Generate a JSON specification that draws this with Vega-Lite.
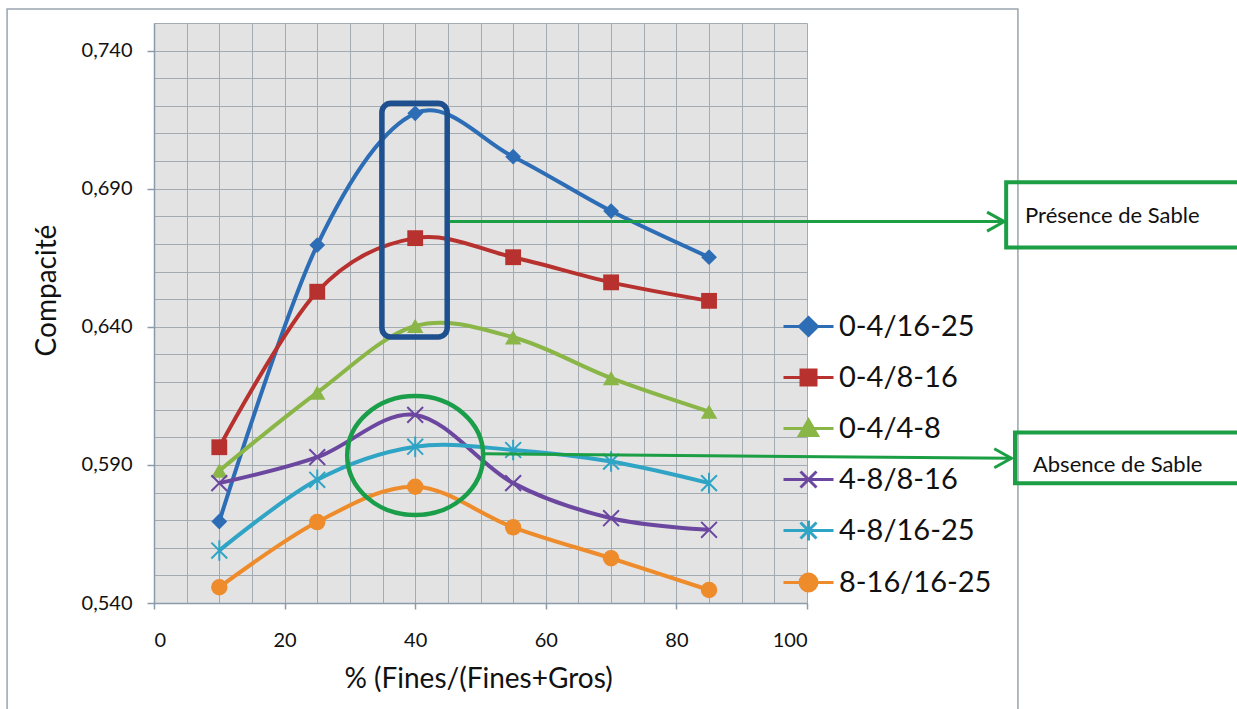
{
  "$schema": "https://vega.github.io/schema/vega-lite/v6.json",
  "width": 653,
  "height": 580,
  "autosize": {"type": "none"},
  "padding": {"left": 154, "top": 23, "right": 430, "bottom": 106},
  "background": "white",
  "config": {
    "view": {"fill": "#e3e3e3", "stroke": null},
    "font": "Lato"
  },
  "datasets": {
    "curves": [
      {"series": "0-4/16-25", "x": 10, "y": 0.5695},
      {"series": "0-4/16-25", "x": 25, "y": 0.6696},
      {"series": "0-4/16-25", "x": 40, "y": 0.7173},
      {"series": "0-4/16-25", "x": 55, "y": 0.7016},
      {"series": "0-4/16-25", "x": 70, "y": 0.6819},
      {"series": "0-4/16-25", "x": 85, "y": 0.6652},
      {"series": "0-4/8-16", "x": 10, "y": 0.5964},
      {"series": "0-4/8-16", "x": 25, "y": 0.6527},
      {"series": "0-4/8-16", "x": 40, "y": 0.6721},
      {"series": "0-4/8-16", "x": 55, "y": 0.6652},
      {"series": "0-4/8-16", "x": 70, "y": 0.6561},
      {"series": "0-4/8-16", "x": 85, "y": 0.6494},
      {"series": "0-4/4-8", "x": 10, "y": 0.5879},
      {"series": "0-4/4-8", "x": 25, "y": 0.6162},
      {"series": "0-4/4-8", "x": 40, "y": 0.6403},
      {"series": "0-4/4-8", "x": 55, "y": 0.6362},
      {"series": "0-4/4-8", "x": 70, "y": 0.6214},
      {"series": "0-4/4-8", "x": 85, "y": 0.6093},
      {"series": "4-8/8-16", "x": 10, "y": 0.5834},
      {"series": "4-8/8-16", "x": 25, "y": 0.5928},
      {"series": "4-8/8-16", "x": 40, "y": 0.6081},
      {"series": "4-8/8-16", "x": 55, "y": 0.5834},
      {"series": "4-8/8-16", "x": 70, "y": 0.5707},
      {"series": "4-8/8-16", "x": 85, "y": 0.5665},
      {"series": "4-8/16-25", "x": 10, "y": 0.559},
      {"series": "4-8/16-25", "x": 25, "y": 0.5846},
      {"series": "4-8/16-25", "x": 40, "y": 0.5966},
      {"series": "4-8/16-25", "x": 55, "y": 0.5954},
      {"series": "4-8/16-25", "x": 70, "y": 0.5912},
      {"series": "4-8/16-25", "x": 85, "y": 0.5834},
      {"series": "8-16/16-25", "x": 10, "y": 0.5457},
      {"series": "8-16/16-25", "x": 25, "y": 0.5693},
      {"series": "8-16/16-25", "x": 40, "y": 0.5821},
      {"series": "8-16/16-25", "x": 55, "y": 0.5674},
      {"series": "8-16/16-25", "x": 70, "y": 0.5562},
      {"series": "8-16/16-25", "x": 85, "y": 0.5447}
    ],
    "frame": [{"x": -22.5, "x2": 132.3, "y": 0.7551, "y2": 0.4995}],
    "bluebox": [{"x": 34.9, "x2": 44.9, "y": 0.7209, "y2": 0.6363}],
    "ellipse": [{"x": 40.0, "y": 0.5934}],
    "arrows": [
      {"x": 45.3, "x2": 130.2, "y": 0.6781, "y2": 0.6781},
      {"x": 50.7, "x2": 131.3, "y": 0.594, "y2": 0.5924}
    ],
    "greenboxes": [
      {"x": 130.5, "x2": 175, "y": 0.6923, "y2": 0.6687},
      {"x": 131.85, "x2": 175, "y": 0.6017, "y2": 0.5834}
    ],
    "notes": [
      {"x": 133.4, "y": 0.6777, "label": "Présence de Sable"},
      {"x": 134.6, "y": 0.5876, "label": "Absence de Sable"}
    ]
  },
  "resolve": {"axis": {"x": "independent", "y": "independent"}},
  "layer": [
    {
      "data": {"name": "curves"},
      "transform": [{"filter": "datum.x > 1000"}],
      "mark": {"type": "point", "filled": true, "size": 2500, "opacity": 1, "strokeWidth": 3},
      "encoding": {
        "x": {"field": "x", "type": "quantitative", "axis": null,
          "scale": {"domain": [0, 100], "nice": false, "zero": false}},
        "y": {"field": "y", "type": "quantitative", "axis": null,
          "scale": {"domain": [0.54, 0.75], "nice": false, "zero": false}},
        "color": {"field": "series", "type": "nominal",
          "scale": {"domain": ["0-4/16-25","0-4/8-16","0-4/4-8","4-8/8-16","4-8/16-25","8-16/16-25"],
            "range": ["#2d6db5","#b7322f","#8ab547","#6b479f","#2fa4c5","#ee8b2b"]},
          "legend": {"orient": "none", "legendX": 628, "legendY": 277, "title": null, "padding": 0,
            "symbolSize": 2500, "rowPadding": 9, "labelOffset": 4, "labelFont": "Lato", "labelFontSize": 29,
            "labelColor": "#111", "labelLimit": 0, "symbolStrokeWidth": 3, "symbolOpacity": 1}},
        "stroke": {"field": "series", "type": "nominal",
          "scale": {"domain": ["0-4/16-25","0-4/8-16","0-4/4-8","4-8/8-16","4-8/16-25","8-16/16-25"],
            "range": ["#2d6db5","#b7322f","#8ab547","#6b479f","#2fa4c5","#ee8b2b"]},
          "legend": {"orient": "none", "legendX": 628, "legendY": 277, "title": null, "padding": 0,
            "symbolSize": 2500, "rowPadding": 9, "labelOffset": 4, "labelFont": "Lato", "labelFontSize": 29,
            "labelColor": "#111", "labelLimit": 0, "symbolStrokeWidth": 3, "symbolOpacity": 1}},
        "shape": {"field": "series", "type": "nominal",
          "scale": {"domain": ["0-4/16-25","0-4/8-16","0-4/4-8","4-8/8-16","4-8/16-25","8-16/16-25"],
            "range": [
              "M-1,0H1M0,-0.36L0.36,0L0,0.36L-0.36,0Z",
              "M-1,0H1M-0.3,-0.3H0.3V0.3H-0.3Z",
              "M-1,0H1M0,-0.34L0.36,0.28H-0.36Z",
              "M-1,0H1M-0.32,-0.32L0.32,0.32M0.32,-0.32L-0.32,0.32",
              "M-1,0H1M-0.32,-0.32L0.32,0.32M0.32,-0.32L-0.32,0.32M0,-0.4V0.4",
              "M-1,0H1M-0.34,0A0.34,0.34 0 1,0 0.34,0A0.34,0.34 0 1,0 -0.34,0Z"]},
          "legend": {"orient": "none", "legendX": 628, "legendY": 277, "title": null, "padding": 0,
            "symbolSize": 2500, "rowPadding": 9, "labelOffset": 4, "labelFont": "Lato", "labelFontSize": 29,
            "labelColor": "#111", "labelLimit": 0, "symbolStrokeWidth": 3, "symbolOpacity": 1}}
      }
    },
    {
      "data": {"name": "frame"},
      "mark": {"type": "rect", "filled": false, "stroke": "#9aa4ae", "strokeWidth": 1.5},
      "encoding": {
        "x": {"field": "x", "type": "quantitative",
          "axis": {"orient": "bottom", "title": null, "values": [0,5,10,15,20,25,30,35,40,45,50,55,60,65,70,75,80,85,90,95,100],
            "labels": false, "ticks": false, "domain": false, "grid": true, "gridColor": "#a2aab2", "gridOpacity": 1, "gridWidth": 1}},
        "x2": {"field": "x2"},
        "y": {"field": "y", "type": "quantitative",
          "axis": {"orient": "left", "title": null, "values": [0.54,0.55,0.56,0.57,0.58,0.59,0.6,0.61,0.62,0.63,0.64,0.65,0.66,0.67,0.68,0.69,0.7,0.71,0.72,0.73,0.74,0.75],
            "labels": false, "ticks": false, "domain": false, "grid": true, "gridColor": "#a2aab2", "gridOpacity": 1, "gridWidth": 1}},
        "y2": {"field": "y2"}
      }
    },
    {
      "data": {"name": "curves"},
      "mark": {"type": "line", "interpolate": "cardinal", "strokeWidth": 4},
      "encoding": {
        "x": {"field": "x", "type": "quantitative",
          "axis": {"orient": "bottom", "title": "% (Fines/(Fines+Gros)", "values": [0,20,40,60,80,100], "grid": false,
            "domain": true, "domainColor": "#8c9bab", "domainWidth": 1.5, "ticks": true, "tickColor": "#8c9bab", "tickSize": 6, "tickWidth": 1.5,
            "labelFont": "Lato", "labelFontSize": 20, "labelColor": "#111", "labelBaseline": "alphabetic", "labelPadding": 37,
            "titleFont": "Lato", "titleFontSize": 28, "titleFontWeight": "normal", "titleColor": "#111",
            "titleX": 324, "titleY": 84, "titleAlign": "center", "titleBaseline": "alphabetic"}},
        "y": {"field": "y", "type": "quantitative",
          "axis": {"orient": "left", "title": "Compacité", "values": [0.54,0.59,0.64,0.69,0.74], "grid": false,
            "labelExpr": "replace(format(datum.value, '.3f'), '.', ',')",
            "domain": true, "domainColor": "#8c9bab", "domainWidth": 1.5, "ticks": true, "tickColor": "#8c9bab", "tickSize": 7, "tickWidth": 1.5,
            "labelFont": "Lato", "labelFontSize": 20, "labelColor": "#111", "labelPadding": 15,
            "titleFont": "Lato", "titleFontSize": 28, "titleFontWeight": "normal", "titleColor": "#111",
            "titleX": -107, "titleY": 267, "titleAngle": -90, "titleAlign": "center", "titleBaseline": "middle"}},
        "color": {"field": "series", "type": "nominal"},
        "detail": {"field": "series"}
      }
    },
    {
      "data": {"name": "curves"},
      "transform": [{"filter": {"field": "series", "equal": "0-4/16-25"}}],
      "mark": {"type": "point", "filled": true, "shape": "diamond", "size": 250, "opacity": 1, "strokeWidth": 0},
      "encoding": {
        "x": {"field": "x", "type": "quantitative", "axis": null},
        "y": {"field": "y", "type": "quantitative", "axis": null},
        "color": {"field": "series", "type": "nominal"}
      }
    },
    {
      "data": {"name": "curves"},
      "transform": [{"filter": {"field": "series", "equal": "0-4/8-16"}}],
      "mark": {"type": "point", "filled": true, "shape": "square", "size": 250, "opacity": 1, "strokeWidth": 0},
      "encoding": {
        "x": {"field": "x", "type": "quantitative", "axis": null},
        "y": {"field": "y", "type": "quantitative", "axis": null},
        "color": {"field": "series", "type": "nominal"}
      }
    },
    {
      "data": {"name": "curves"},
      "transform": [{"filter": {"field": "series", "equal": "0-4/4-8"}}],
      "mark": {"type": "point", "filled": true, "shape": "triangle-up", "size": 270, "opacity": 1, "strokeWidth": 0},
      "encoding": {
        "x": {"field": "x", "type": "quantitative", "axis": null},
        "y": {"field": "y", "type": "quantitative", "axis": null},
        "color": {"field": "series", "type": "nominal"}
      }
    },
    {
      "data": {"name": "curves"},
      "transform": [{"filter": {"field": "series", "equal": "4-8/8-16"}}],
      "mark": {"type": "point", "filled": false, "shape": "M-1,-1L1,1M1,-1L-1,1", "size": 250, "opacity": 1, "strokeWidth": 2},
      "encoding": {
        "x": {"field": "x", "type": "quantitative", "axis": null},
        "y": {"field": "y", "type": "quantitative", "axis": null},
        "color": {"field": "series", "type": "nominal"}
      }
    },
    {
      "data": {"name": "curves"},
      "transform": [{"filter": {"field": "series", "equal": "4-8/16-25"}}],
      "mark": {"type": "point", "filled": false, "shape": "M-1,-1L1,1M1,-1L-1,1M0,-1.3V1.3", "size": 250, "opacity": 1, "strokeWidth": 2},
      "encoding": {
        "x": {"field": "x", "type": "quantitative", "axis": null},
        "y": {"field": "y", "type": "quantitative", "axis": null},
        "color": {"field": "series", "type": "nominal"}
      }
    },
    {
      "data": {"name": "curves"},
      "transform": [{"filter": {"field": "series", "equal": "8-16/16-25"}}],
      "mark": {"type": "point", "filled": true, "shape": "circle", "size": 270, "opacity": 1, "strokeWidth": 0},
      "encoding": {
        "x": {"field": "x", "type": "quantitative", "axis": null},
        "y": {"field": "y", "type": "quantitative", "axis": null},
        "color": {"field": "series", "type": "nominal"}
      }
    },
    {
      "data": {"name": "bluebox"},
      "mark": {"type": "rect", "filled": false, "stroke": "#1e4f8e", "strokeWidth": 5.5, "cornerRadius": 9},
      "encoding": {
        "x": {"field": "x", "type": "quantitative", "axis": null},
        "x2": {"field": "x2"},
        "y": {"field": "y", "type": "quantitative", "axis": null},
        "y2": {"field": "y2"}
      }
    },
    {
      "data": {"name": "ellipse"},
      "mark": {"type": "point", "filled": false, "color": "#1b9e49", "strokeWidth": 4.5, "opacity": 1, "size": 18496,
        "shape": "M-1,0A1,0.875 0 1,0 1,0A1,0.875 0 1,0 -1,0Z"},
      "encoding": {
        "x": {"field": "x", "type": "quantitative", "axis": null},
        "y": {"field": "y", "type": "quantitative", "axis": null}
      }
    },
    {
      "data": {"name": "arrows"},
      "mark": {"type": "rule", "color": "#1b9e44", "strokeWidth": 3},
      "encoding": {
        "x": {"field": "x", "type": "quantitative", "axis": null},
        "x2": {"field": "x2"},
        "y": {"field": "y", "type": "quantitative", "axis": null},
        "y2": {"field": "y2"}
      }
    },
    {
      "data": {"name": "arrows"},
      "mark": {"type": "point", "filled": false, "color": "#1b9e44", "strokeWidth": 3, "opacity": 1, "size": 361,
        "shape": "M-1.8,-1L0,0L-1.8,1", "strokeJoin": "miter"},
      "encoding": {
        "x": {"field": "x2", "type": "quantitative", "axis": null},
        "y": {"field": "y2", "type": "quantitative", "axis": null}
      }
    },
    {
      "data": {"name": "greenboxes"},
      "mark": {"type": "rect", "filled": false, "stroke": "#1b9e44", "strokeWidth": 4},
      "encoding": {
        "x": {"field": "x", "type": "quantitative", "axis": null},
        "x2": {"field": "x2"},
        "y": {"field": "y", "type": "quantitative", "axis": null},
        "y2": {"field": "y2"}
      }
    },
    {
      "data": {"name": "notes"},
      "mark": {"type": "text", "align": "left", "baseline": "alphabetic", "font": "Lato", "fontSize": 22, "color": "#111"},
      "encoding": {
        "x": {"field": "x", "type": "quantitative", "axis": null},
        "y": {"field": "y", "type": "quantitative", "axis": null},
        "text": {"field": "label"}
      }
    }
  ]
}
